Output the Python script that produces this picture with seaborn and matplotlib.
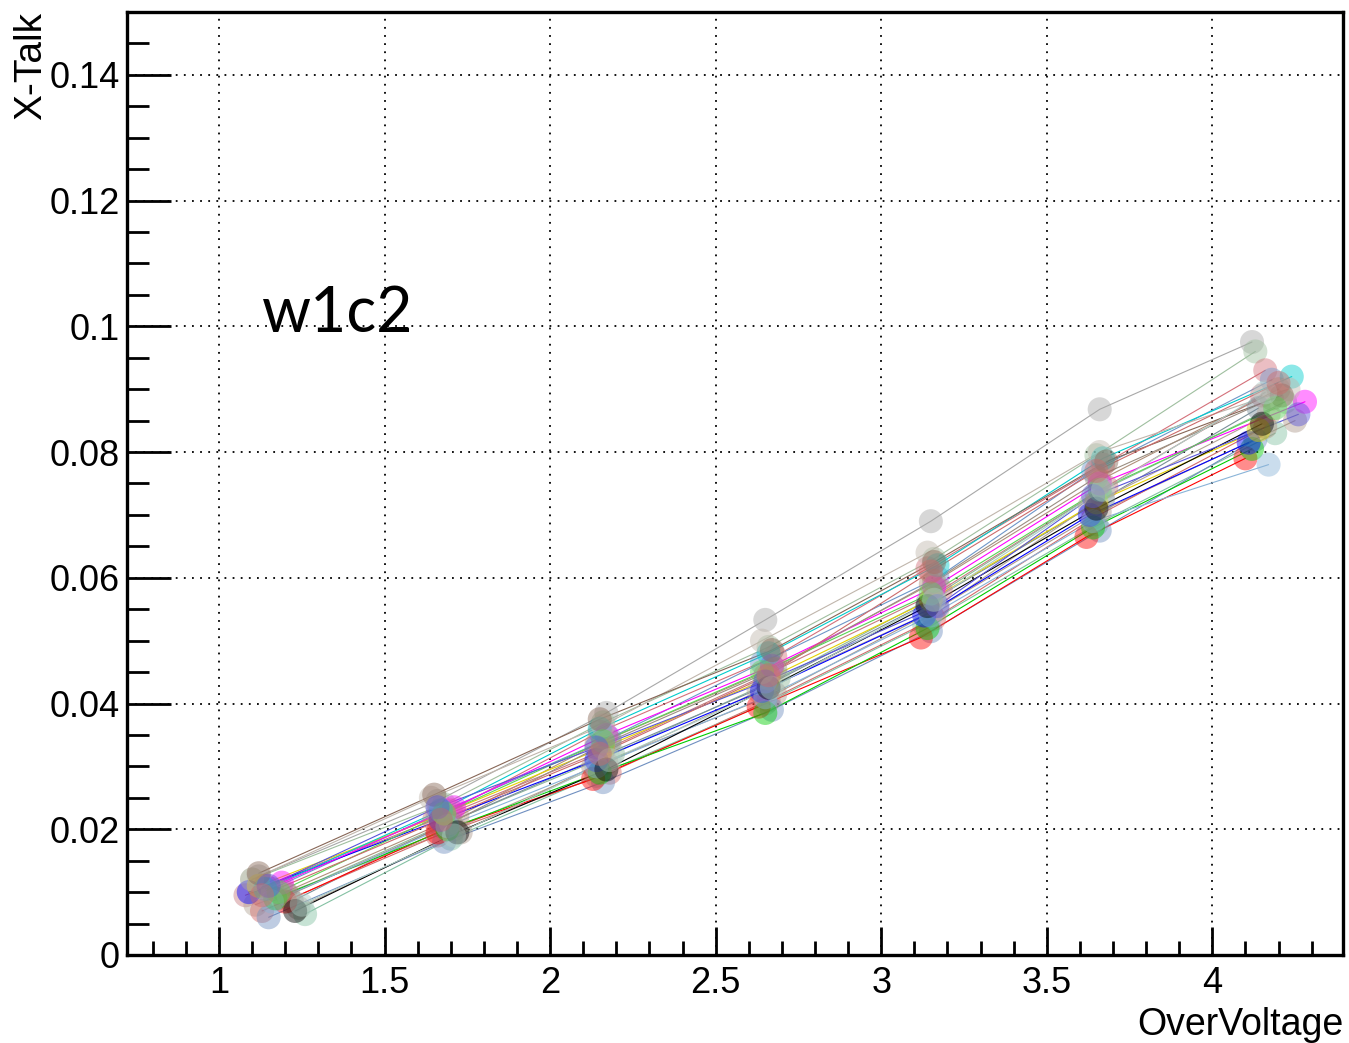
import numpy as np
import pandas as pd
import matplotlib.pyplot as plt
import seaborn as sns
from matplotlib.ticker import MultipleLocator

# Channels (x = over-voltage, y = cross-talk), one list per channel
channels = [f"ch{i:02d}" for i in range(1, 29)]

overvoltage = [
    [1.12, 1.66, 2.17, 2.65, 3.15, 3.66, 4.12],
    [1.10, 1.68, 2.16, 2.66, 3.16, 3.65, 4.13],
    [1.14, 1.70, 2.15, 2.68, 3.14, 3.67, 4.16],
    [1.16, 1.66, 2.18, 2.64, 3.17, 3.64, 4.18],
    [1.20, 1.72, 2.14, 2.67, 3.15, 3.66, 4.20],
    [1.08, 1.65, 2.16, 2.65, 3.18, 3.68, 4.15],
    [1.18, 1.69, 2.19, 2.69, 3.16, 3.65, 4.22],
    [1.22, 1.67, 2.15, 2.66, 3.14, 3.67, 4.14],
    [1.11, 1.71, 2.17, 2.63, 3.17, 3.63, 4.17],
    [1.24, 1.73, 2.13, 2.68, 3.15, 3.66, 4.25],
    [1.13, 1.66, 2.18, 2.66, 3.16, 3.64, 4.16],
    [1.26, 1.70, 2.14, 2.65, 3.13, 3.65, 4.19],
    [1.15, 1.68, 2.16, 2.67, 3.15, 3.66, 4.13],
    [1.20, 1.66, 2.13, 2.63, 3.12, 3.62, 4.10],
    [1.17, 1.69, 2.15, 2.65, 3.14, 3.64, 4.12],
    [1.09, 1.67, 2.14, 2.64, 3.13, 3.63, 4.11],
    [1.12, 1.68, 2.16, 2.66, 3.15, 3.65, 4.14],
    [1.19, 1.71, 2.17, 2.67, 3.16, 3.66, 4.28],
    [1.14, 1.67, 2.15, 2.66, 3.17, 3.67, 4.24],
    [1.21, 1.70, 2.18, 2.68, 3.16, 3.65, 4.18],
    [1.10, 1.64, 2.16, 2.64, 3.14, 3.66, 4.23],
    [1.16, 1.69, 2.14, 2.65, 3.15, 3.64, 4.17],
    [1.12, 1.65, 2.15, 2.67, 3.16, 3.68, 4.21],
    [1.23, 1.72, 2.17, 2.66, 3.14, 3.65, 4.15],
    [1.18, 1.68, 2.16, 2.64, 3.15, 3.66, 4.19],
    [1.15, 1.66, 2.14, 2.65, 3.17, 3.64, 4.26],
    [1.25, 1.71, 2.18, 2.67, 3.16, 3.67, 4.16],
    [1.13, 1.67, 2.15, 2.66, 3.15, 3.65, 4.20],
]

xtalk = [
    [0.0125, 0.0245, 0.0385, 0.0533, 0.0690, 0.0868, 0.0975],
    [0.0120, 0.0240, 0.0370, 0.0490, 0.0630, 0.0795, 0.0960],
    [0.0110, 0.0230, 0.0355, 0.0475, 0.0615, 0.0780, 0.0930],
    [0.0105, 0.0225, 0.0345, 0.0465, 0.0600, 0.0770, 0.0915],
    [0.0100, 0.0220, 0.0335, 0.0455, 0.0590, 0.0755, 0.0900],
    [0.0095, 0.0215, 0.0325, 0.0445, 0.0580, 0.0745, 0.0890],
    [0.0090, 0.0210, 0.0320, 0.0440, 0.0570, 0.0735, 0.0880],
    [0.0085, 0.0205, 0.0315, 0.0430, 0.0560, 0.0725, 0.0870],
    [0.0080, 0.0200, 0.0305, 0.0420, 0.0550, 0.0715, 0.0860],
    [0.0075, 0.0195, 0.0300, 0.0415, 0.0545, 0.0705, 0.0850],
    [0.0070, 0.0190, 0.0290, 0.0405, 0.0535, 0.0695, 0.0840],
    [0.0065, 0.0185, 0.0285, 0.0400, 0.0525, 0.0685, 0.0830],
    [0.0060, 0.0180, 0.0275, 0.0390, 0.0515, 0.0675, 0.0820],
    [0.0085, 0.0195, 0.0280, 0.0395, 0.0505, 0.0665, 0.0790],
    [0.0090, 0.0200, 0.0290, 0.0385, 0.0520, 0.0680, 0.0805],
    [0.0100, 0.0215, 0.0310, 0.0420, 0.0540, 0.0700, 0.0815],
    [0.0110, 0.0225, 0.0330, 0.0440, 0.0565, 0.0720, 0.0835],
    [0.0115, 0.0235, 0.0350, 0.0460, 0.0585, 0.0750, 0.0880],
    [0.0105, 0.0230, 0.0360, 0.0480, 0.0620, 0.0790, 0.0920],
    [0.0095, 0.0210, 0.0340, 0.0455, 0.0595, 0.0760, 0.0885],
    [0.0120, 0.0250, 0.0365, 0.0500, 0.0640, 0.0800, 0.0900],
    [0.0085, 0.0205, 0.0300, 0.0410, 0.0540, 0.0690, 0.0780],
    [0.0130, 0.0255, 0.0375, 0.0485, 0.0625, 0.0785, 0.0890],
    [0.0070, 0.0195, 0.0295, 0.0425, 0.0555, 0.0710, 0.0845],
    [0.0100, 0.0225, 0.0340, 0.0450, 0.0575, 0.0740, 0.0870],
    [0.0110, 0.0235, 0.0330, 0.0435, 0.0555, 0.0730, 0.0860],
    [0.0080, 0.0190, 0.0310, 0.0425, 0.0565, 0.0740, 0.0895],
    [0.0095, 0.0215, 0.0320, 0.0445, 0.0610, 0.0770, 0.0910],
]

# ROOT-ish colour table, one per channel
colors = [
    "#a8a8a8", "#9fbf9f", "#d4707a", "#6e96c8", "#b0907a", "#c77a80",
    "#8fb89a", "#7a8e99", "#b2a596", "#ad998c", "#d46a6a", "#84c1a3",
    "#6f8fc0", "#ff0000", "#00cc00", "#0000ff", "#e6d200", "#ff00ff",
    "#00cccc", "#9b8e82", "#c0b6ac", "#8ab4d8", "#876656", "#000000",
    "#59d454", "#5954d9", "#afcec6", "#cc6b6b",
]

rows = []
for ch, xs, ys in zip(channels, overvoltage, xtalk):
    for x, y in zip(xs, ys):
        rows.append({"channel": ch, "OverVoltage": x, "XTalk": y})
df = pd.DataFrame(rows)
palette = dict(zip(channels, colors))

sns.set_theme(style="white")
plt.rcParams["font.family"] = ["Liberation Sans", "DejaVu Sans"]

fig = plt.figure(figsize=(13.49, 10.43), dpi=100)
ax = fig.add_axes([0.0941, 0.0844, 0.9015, 0.9041])

sns.lineplot(data=df, x="OverVoltage", y="XTalk", hue="channel", palette=palette,
             units="channel", estimator=None, sort=False, lw=0.8, legend=False, ax=ax)
sns.scatterplot(data=df, x="OverVoltage", y="XTalk", hue="channel", palette=palette,
                s=300, alpha=0.45, edgecolor="none", legend=False, ax=ax, zorder=3)

ax.set_xlim(0.722, 4.395)
ax.set_ylim(0, 0.15)
ax.xaxis.set_minor_locator(MultipleLocator(0.1))
ax.yaxis.set_minor_locator(MultipleLocator(0.005))
ax.set_xticks([1, 1.5, 2, 2.5, 3, 3.5, 4])
ax.set_xticklabels(["1", "1.5", "2", "2.5", "3", "3.5", "4"])
ax.set_yticks([0, 0.02, 0.04, 0.06, 0.08, 0.1, 0.12, 0.14])
ax.set_yticklabels(["0", "0.02", "0.04", "0.06", "0.08", "0.1", "0.12", "0.14"])

ax.grid(True, which="major", color="black", linestyle=(0, (1, 3.5)), lw=1.3)
ax.tick_params(axis="both", which="both", direction="in", colors="black",
               labelsize=26, bottom=True, left=True, top=False, right=False, width=2)
ax.tick_params(axis="y", which="major", length=32, pad=5)
ax.tick_params(axis="y", which="minor", length=16)
ax.tick_params(axis="x", which="major", length=20, pad=8)
ax.tick_params(axis="x", which="minor", length=10)
for sp in ax.spines.values():
    sp.set_color("black")
    sp.set_linewidth(2.4)

ax.set_xlabel("OverVoltage", fontsize=27, loc="right", labelpad=4, color="black")
ax.set_ylabel("X-Talk", fontsize=28, loc="top", labelpad=0, color="black")

ax.text(1.13, 0.102, "w1c2", fontsize=45, family=["Lato", "DejaVu Sans"],
        ha="left", va="center", color="black")

fig.savefig("out.png", dpi=100, facecolor="white")
